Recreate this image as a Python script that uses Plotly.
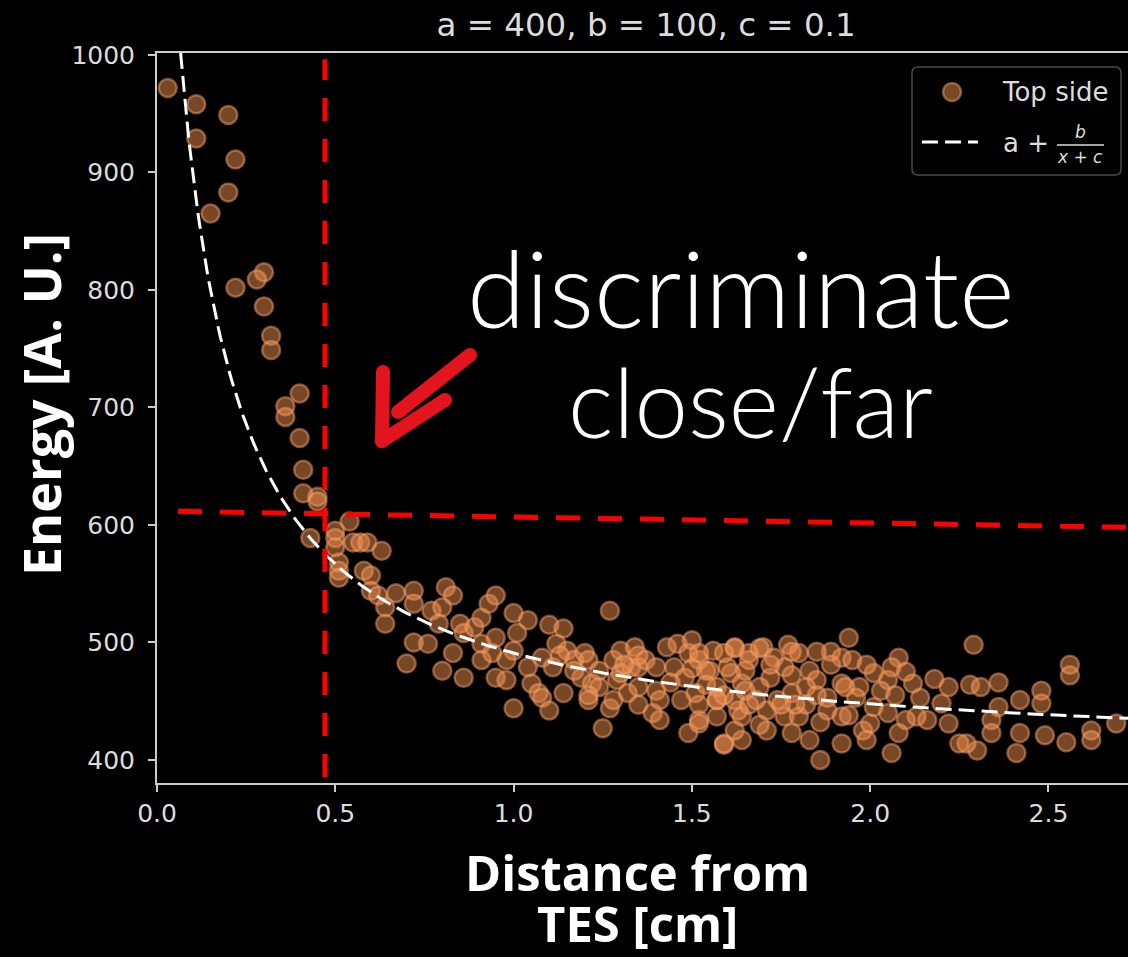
import numpy as np
import plotly.graph_objects as go

# Fit parameters of the model  E(x) = a + b / (x + c)
A_FIT, B_FIT, C_FIT = 400, 100, 0.1

# Measured events, top side: distance from TES [cm] and energy [A.U.]
dist_cm = [
    0.03, 0.11, 0.11, 0.20, 0.22, 0.20, 0.15, 0.22, 0.30, 0.28, 0.30, 0.32, 0.32, 0.40, 0.36, 0.36,
    0.40, 0.41, 0.41, 0.45, 0.45, 0.43,
    0.54, 0.50, 0.50, 0.55, 0.57, 0.59, 0.63, 0.50, 0.51, 0.51, 0.51, 0.58, 0.60, 0.60, 0.62, 0.64, 0.64,
    0.67, 0.72, 0.72, 0.72, 0.70, 0.76, 0.77, 0.81, 0.83, 0.80, 0.79, 0.83, 0.80, 0.86, 0.85, 0.86,
    0.89, 0.91, 0.93, 0.95, 0.91, 0.91, 0.94, 0.95, 0.95, 0.98, 1.00, 1.04, 1.01, 1.00, 0.98, 1.00,
    1.05, 1.07, 1.04,
    1.10, 1.14, 1.12, 1.15, 1.08, 1.11, 1.08, 1.10, 1.14, 1.17, 1.20, 1.21, 1.19, 1.22, 1.21, 1.24,
    1.27, 1.25, 1.27, 1.28, 1.30, 1.34, 1.33, 1.29, 1.32, 1.35, 1.35, 1.37, 1.40, 1.39, 1.41, 1.43,
    1.46, 1.45, 1.48, 1.49, 1.50, 1.52, 1.51, 1.49, 1.52, 1.56, 1.55, 1.57, 1.59, 1.62, 1.61, 1.63,
    1.64, 1.66,
    1.94, 2.29, 2.56, 2.56, 2.36, 2.08, 2.06, 2.01, 1.89, 1.77, 1.80, 1.70, 1.62, 1.52, 1.92, 1.95,
    1.83, 1.76, 1.66, 1.60, 1.54, 1.72, 1.64, 1.57, 1.85, 1.92, 1.97, 2.05, 2.12, 2.18, 2.22, 2.28,
    2.31, 2.48, 2.42, 2.48, 2.36, 2.34, 2.69, 2.62, 2.62, 2.55, 2.49, 2.42, 2.41, 2.34, 2.30, 2.27,
    2.25, 2.22, 2.16, 2.13, 2.10, 2.08, 2.06, 1.98, 1.99, 1.92, 1.86, 1.83, 1.78, 1.71, 1.59, 1.52,
    1.57, 1.64, 1.71, 1.76, 1.80, 1.88, 1.92, 2.01, 2.05, 1.74, 1.68, 1.62, 1.78, 1.88, 1.96, 2.14,
    2.20,
    1.59, 1.65, 1.69, 1.73, 1.78, 1.82, 1.85, 1.89, 1.93, 1.99, 2.03, 2.07, 2.10, 1.69, 1.75, 1.82,
    1.86, 1.94, 2.00, 1.62, 1.66, 1.57, 1.54, 1.59, 1.78, 1.72, 1.69, 1.65, 1.79, 1.85,
    1.13, 1.17, 1.24, 1.30, 1.35, 1.40, 1.44, 1.50, 1.21, 1.28, 1.35, 1.47, 1.52, 1.41, 1.31,
]
energy = [
    972, 958, 929, 949, 911, 883, 865, 802, 815, 809, 786, 761, 749, 712, 701, 692,
    674, 647, 627, 624, 620, 589,
    603, 595, 589, 585, 585, 585, 578, 581, 568, 561, 555, 561, 557, 544, 540, 530, 516,
    542, 544, 533, 500, 482, 499, 527, 547, 540, 530, 516, 491, 476, 470, 516, 508,
    513, 521, 533, 540, 499, 485, 491, 504, 470, 468, 525, 519, 508, 493, 485, 444,
    465, 457, 479,
    515, 512, 499, 493, 487, 479, 453, 442, 457, 485, 491, 485, 470, 465, 451, 462,
    527, 427, 444, 485, 493, 496, 479, 468, 457, 462, 479, 485, 479, 440, 434, 496,
    499, 479, 470, 491, 502, 485, 457, 423, 434, 493, 476, 451, 414, 496, 474, 442,
    417, 491,
    504, 498, 481, 472, 466, 487, 479, 474, 492, 498, 491, 496, 495, 491, 487, 485,
    476, 479, 485, 479, 476, 470, 465, 462, 468, 465, 462, 468, 465, 469, 462, 464,
    462, 459, 451, 448, 445, 434, 431, 425, 417, 415, 421, 423, 406, 423, 408, 414,
    414, 431, 434, 437, 434, 423, 406, 425, 417, 414, 400, 417, 423, 425, 413, 431,
    437, 437, 442, 437, 437, 442, 437, 445, 440, 451, 451, 451, 457, 453, 453, 453,
    448,
    491, 476, 462, 487, 472, 462, 492, 481, 462, 481, 459, 455, 475, 430, 447, 447,
    432, 438, 431, 425, 447, 451, 464, 455, 492, 481, 495, 459, 447, 455,
    489, 476, 476, 474, 489, 459, 466, 478, 455, 451, 447, 451, 447, 451, 481,
]

x_tick_vals = [0.0, 0.5, 1.0, 1.5, 2.0, 2.5]
x_tick_text = ["0.0", "0.5", "1.0", "1.5", "2.0", "2.5"]
y_tick_vals = [400, 500, 600, 700, 800, 900, 1000]
y_tick_text = ["400", "500", "600", "700", "800", "900", "1000"]

X_RANGE = [0.0, 2.723]
Y_RANGE = [380.4, 1001.7]

# Hand-drawn separation cuts (distance cut and slightly tilted energy cut)
cut_distance = 0.471
cut_distance_span = [385.6, 996.4]
cut_energy_pts = [(0.059, 611.6), (2.723, 598.0)]

W, H = 1128, 957
M_L, M_R, M_T, M_B = 157, 0, 53, 174
PW, PH = W - M_L - M_R, H - M_T - M_B


def px_x(p):
    return (p - M_L) / PW


def px_y(p):
    return (H - M_B - p) / PH


# Fit curve from the stated parameters, from the top of the frame to the right edge
fit_x = np.linspace(B_FIT / (Y_RANGE[1] - A_FIT) - C_FIT, X_RANGE[1], 500)
fit_y = A_FIT + B_FIT / (fit_x + C_FIT)

pt_fill = "rgba(240,142,76,0.5)"
pt_edge = "rgba(245,160,105,0.5)"
fit_dash = "16px,7px"

fig = go.Figure()
fig.add_trace(go.Scatter(
    x=dist_cm, y=energy, mode="markers", name="Top side", showlegend=False,
    marker=dict(size=18, color=pt_fill, line=dict(color=pt_edge, width=2.5)),
))
fig.add_trace(go.Scatter(
    x=fit_x, y=fit_y, mode="lines", name="a + b/(x+c)", showlegend=False,
    line=dict(color="white", width=3, dash=fit_dash),
))

red = "#ff0000"
shapes = [
    dict(type="line", xref="x", yref="y", x0=cut_distance, x1=cut_distance,
         y0=cut_distance_span[0], y1=cut_distance_span[1],
         line=dict(color=red, width=5, dash="23px,18px")),
    dict(type="line", xref="x", yref="y",
         x0=cut_energy_pts[0][0], y0=cut_energy_pts[0][1],
         x1=cut_energy_pts[1][0], y1=cut_energy_pts[1][1],
         line=dict(color=red, width=5, dash="24px,18px")),
]

# Hand-drawn red arrow pointing to the cut corner
arrow_red = "#e4141f"
arrow_strokes = [((383, 372), (382, 441)), ((382, 441), (445, 400)), ((398, 412), (470, 355))]
for (xa, ya), (xb, yb) in arrow_strokes:
    shapes.append(dict(type="line", xref="paper", yref="paper",
                       x0=px_x(xa), y0=px_y(ya), x1=px_x(xb), y1=px_y(yb),
                       line=dict(color=arrow_red, width=14)))
    for (cx, cy) in [(xa, ya), (xb, yb)]:
        r = 7
        shapes.append(dict(type="circle", xref="paper", yref="paper",
                           x0=px_x(cx - r), x1=px_x(cx + r), y0=px_y(cy + r), y1=px_y(cy - r),
                           fillcolor=arrow_red, line=dict(width=0)))

# Legend box, drawn by hand so the fraction can be typeset
lx0, ly0, lx1, ly1, rad = 912, 67, 1121, 175, 6
box_path = (
    f"M {px_x(lx0 + rad)},{px_y(ly0)} L {px_x(lx1 - rad)},{px_y(ly0)} "
    f"Q {px_x(lx1)},{px_y(ly0)} {px_x(lx1)},{px_y(ly0 + rad)} "
    f"L {px_x(lx1)},{px_y(ly1 - rad)} Q {px_x(lx1)},{px_y(ly1)} {px_x(lx1 - rad)},{px_y(ly1)} "
    f"L {px_x(lx0 + rad)},{px_y(ly1)} Q {px_x(lx0)},{px_y(ly1)} {px_x(lx0)},{px_y(ly1 - rad)} "
    f"L {px_x(lx0)},{px_y(ly0 + rad)} Q {px_x(lx0)},{px_y(ly0)} {px_x(lx0 + rad)},{px_y(ly0)} Z"
)
shapes += [
    dict(type="path", xref="paper", yref="paper", path=box_path,
         fillcolor="rgba(0,0,0,0.8)", line=dict(color="#4a4a4a", width=1.5)),
    dict(type="circle", xref="paper", yref="paper",
         x0=px_x(943), x1=px_x(961), y0=px_y(101), y1=px_y(83),
         fillcolor=pt_fill, line=dict(color=pt_edge, width=2.5)),
    dict(type="line", xref="paper", yref="paper",
         x0=px_x(922), x1=px_x(978), y0=px_y(142), y1=px_y(142),
         line=dict(color="white", width=3, dash=fit_dash)),
    dict(type="line", xref="paper", yref="paper",
         x0=px_x(1057), x1=px_x(1104), y0=px_y(145), y1=px_y(145),
         line=dict(color="#dcdcdc", width=1.5)),
]

leg_font = dict(family="DejaVu Sans", size=26, color="#dcdcdc")
frac_font = dict(family="DejaVu Sans", size=17, color="#dcdcdc", style="italic")
label_font = dict(family="Open Sans", size=49, color="white", weight=700)
hand_font = dict(family="Lato", color="white", weight=300)

annotations = [
    dict(text="Top side", xref="paper", yref="paper", x=px_x(1000), y=px_y(92),
         showarrow=False, xanchor="left", yanchor="middle", font=leg_font),
    dict(text="a +", xref="paper", yref="paper", x=px_x(1001), y=px_y(143),
         showarrow=False, xanchor="left", yanchor="middle", font=leg_font),
    dict(text="b", xref="paper", yref="paper", x=px_x(1080), y=px_y(132),
         showarrow=False, xanchor="center", yanchor="middle", font=frac_font),
    dict(text="x + c", xref="paper", yref="paper", x=px_x(1080), y=px_y(157),
         showarrow=False, xanchor="center", yanchor="middle", font=frac_font),
    dict(text="Energy [A. U.]", xref="paper", yref="paper", x=px_x(40), y=px_y(405),
         textangle=-90, showarrow=False, xanchor="center", yanchor="middle",
         font=dict(family="Open Sans", size=52, color="white", weight=700)),
    dict(text="Distance from", xref="paper", yref="paper", x=px_x(637), y=px_y(872),
         showarrow=False, xanchor="center", yanchor="middle", font=label_font),
    dict(text="TES [cm]", xref="paper", yref="paper", x=px_x(637), y=px_y(923),
         showarrow=False, xanchor="center", yanchor="middle", font=label_font),
    dict(text="discriminate", xref="paper", yref="paper", x=px_x(740), y=px_y(287),
         showarrow=False, xanchor="center", yanchor="middle",
         font=dict(hand_font, size=106)),
    dict(text="close/far", xref="paper", yref="paper", x=px_x(750), y=px_y(400),
         showarrow=False, xanchor="center", yanchor="middle",
         font=dict(hand_font, size=96)),
]

axis_col = "#cccccc"
tick_font = dict(family="DejaVu Sans", size=25, color="#dcdcdc")

fig.update_layout(
    width=W, height=H,
    margin=dict(l=M_L, r=M_R, t=M_T, b=M_B),
    paper_bgcolor="black", plot_bgcolor="black",
    showlegend=False,
    title=dict(text="a = 400, b = 100, c = 0.1", x=646 / W,
               xanchor="center", y=1 - 25 / H, yanchor="middle",
               font=dict(family="DejaVu Sans", size=32.5, color="#dcdcdc")),
    xaxis=dict(range=X_RANGE, tickvals=x_tick_vals, ticktext=x_tick_text,
               showgrid=False, zeroline=False, showline=True, linecolor=axis_col,
               linewidth=2, mirror=True, ticks="outside", ticklen=7, tickwidth=2,
               tickcolor=axis_col, tickfont=tick_font),
    yaxis=dict(range=Y_RANGE, tickvals=y_tick_vals, ticktext=y_tick_text,
               showgrid=False, zeroline=False, showline=True, linecolor=axis_col,
               linewidth=2, ticks="outside", ticklen=7, tickwidth=2,
               tickcolor=axis_col, tickfont=tick_font, ticklabelstandoff=8),
    shapes=shapes,
    annotations=annotations,
)

fig.write_html("out.html")
